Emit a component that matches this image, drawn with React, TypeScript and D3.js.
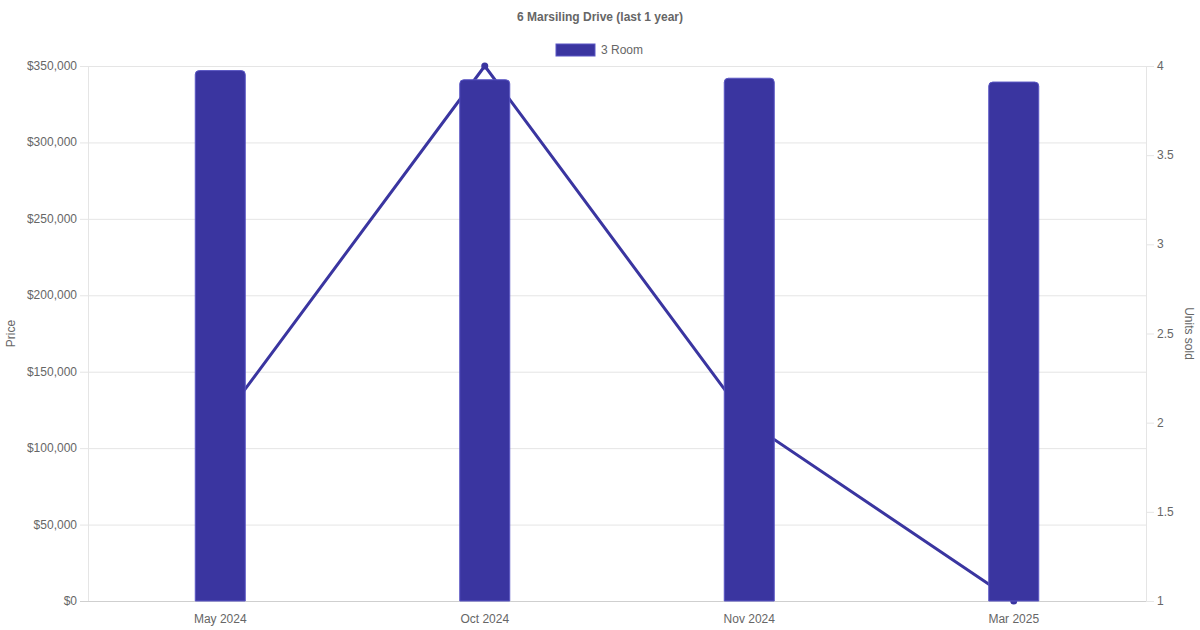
import { useEffect, useRef } from 'react';
import * as d3 from 'd3';

// data
const months = ['May 2024', 'Oct 2024', 'Nov 2024', 'Mar 2025'];
const prices = [347000, 341000, 342000, 339500];
const unitsSold = [2, 4, 2, 1];
const priceTicks = [0, 50000, 100000, 150000, 200000, 250000, 300000, 350000];
const unitTicks = [1, 1.5, 2, 2.5, 3, 3.5, 4];

const WIDTH = 1200;
const HEIGHT = 630;
const COLOR = '#3a35a0';
const FONT = '"Liberation Sans", Arial, Helvetica, sans-serif';

export default function App() {
  const ref = useRef<SVGSVGElement | null>(null);

  useEffect(() => {
    const svg = d3.select(ref.current);
    svg.selectAll('*').remove();

    const margin = { top: 66, right: 54, bottom: 29, left: 88 };
    const innerWidth = WIDTH - margin.left - margin.right;
    const innerHeight = HEIGHT - margin.top - margin.bottom;

    const x = d3.scaleBand().domain(months).range([0, innerWidth]);
    const yLeft = d3.scaleLinear().domain([0, 350000]).range([innerHeight, 0]);
    const yRight = d3.scaleLinear().domain([1, 4]).range([innerHeight, 0]);

    svg.style('font-family', FONT);

    // title
    svg
      .append('text')
      .attr('x', WIDTH / 2)
      .attr('y', 21)
      .attr('text-anchor', 'middle')
      .attr('font-size', 12)
      .attr('font-weight', 'bold')
      .attr('fill', '#666')
      .text('6 Marsiling Drive (last 1 year)');

    // legend
    const legend = svg.append('g').attr('transform', 'translate(556,44)');
    legend
      .append('rect')
      .attr('width', 39)
      .attr('height', 12)
      .attr('fill', COLOR)
      .attr('stroke', '#5a56c4')
      .attr('stroke-width', 1);
    legend
      .append('text')
      .attr('x', 45)
      .attr('y', 10)
      .attr('font-size', 12)
      .attr('fill', '#666')
      .text('3 Room');

    const g = svg
      .append('g')
      .attr('transform', `translate(${margin.left},${margin.top})`);

    // left grid + ticks
    priceTicks.forEach(t => {
      g.append('line')
        .attr('x1', -8)
        .attr('x2', innerWidth)
        .attr('y1', yLeft(t) + 0.5)
        .attr('y2', yLeft(t) + 0.5)
        .attr('stroke', t === 0 ? '#cfcfcf' : '#e5e5e5')
        .attr('stroke-width', 1);
      g.append('text')
        .attr('x', -11)
        .attr('y', yLeft(t) + 4)
        .attr('text-anchor', 'end')
        .attr('font-size', 12)
        .attr('fill', '#666')
        .text('$' + d3.format(',')(t));
    });

    // right ticks
    unitTicks.forEach(t => {
      g.append('line')
        .attr('x1', innerWidth)
        .attr('x2', innerWidth + 8)
        .attr('y1', yRight(t) + 0.5)
        .attr('y2', yRight(t) + 0.5)
        .attr('stroke', '#e5e5e5');
      g.append('text')
        .attr('x', innerWidth + 11)
        .attr('y', yRight(t) + 4)
        .attr('font-size', 12)
        .attr('fill', '#666')
        .text(String(t));
    });

    // axis lines
    g.append('line')
      .attr('x1', 0.5)
      .attr('x2', 0.5)
      .attr('y1', 0)
      .attr('y2', innerHeight)
      .attr('stroke', '#e5e5e5');
    g.append('line')
      .attr('x1', innerWidth + 0.5)
      .attr('x2', innerWidth + 0.5)
      .attr('y1', 0)
      .attr('y2', innerHeight)
      .attr('stroke', '#e5e5e5');

    // x labels
    months.forEach(m => {
      g.append('text')
        .attr('x', x(m)! + x.bandwidth() / 2)
        .attr('y', innerHeight + 22)
        .attr('text-anchor', 'middle')
        .attr('font-size', 12)
        .attr('fill', '#666')
        .text(m);
    });

    // axis titles
    svg
      .append('text')
      .attr('transform', `translate(15,${margin.top + innerHeight / 2}) rotate(-90)`)
      .attr('text-anchor', 'middle')
      .attr('font-size', 12)
      .attr('fill', '#666')
      .text('Price');
    svg
      .append('text')
      .attr('transform', `translate(1185,${margin.top + innerHeight / 2}) rotate(90)`)
      .attr('text-anchor', 'middle')
      .attr('font-size', 12)
      .attr('fill', '#666')
      .text('Units sold');

    // line (drawn behind bars)
    const line = d3
      .line<number>()
      .x((_, i) => x(months[i])! + x.bandwidth() / 2)
      .y(d => yRight(d));

    g.append('path')
      .datum(unitsSold)
      .attr('fill', 'none')
      .attr('stroke', COLOR)
      .attr('stroke-width', 3)
      .attr('stroke-linejoin', 'round')
      .attr('d', line);

    g.selectAll('circle.pt')
      .data(unitsSold)
      .enter()
      .append('circle')
      .attr('cx', (_, i) => x(months[i])! + x.bandwidth() / 2)
      .attr('cy', d => yRight(d))
      .attr('r', 3.5)
      .attr('fill', COLOR);

    // bars
    const barWidth = 50;
    const r = 4;
    prices.forEach((p, i) => {
      const cx = x(months[i])! + x.bandwidth() / 2;
      const x0 = cx - barWidth / 2;
      const x1 = cx + barWidth / 2;
      const y0 = yLeft(p);
      const yb = yLeft(0);
      const path = d3.path();
      path.moveTo(x0, yb);
      path.lineTo(x0, y0 + r);
      path.quadraticCurveTo(x0, y0, x0 + r, y0);
      path.lineTo(x1 - r, y0);
      path.quadraticCurveTo(x1, y0, x1, y0 + r);
      path.lineTo(x1, yb);
      path.closePath();
      g.append('path')
        .attr('d', path.toString())
        .attr('fill', COLOR)
        .attr('stroke', '#5a56c4')
        .attr('stroke-width', 1);
    });
  }, []);

  return (
    <svg
      ref={ref}
      width={WIDTH}
      height={HEIGHT}
      style={{ position: 'absolute', left: 0, top: 0, background: '#fff' }}
    ></svg>
  );
}
